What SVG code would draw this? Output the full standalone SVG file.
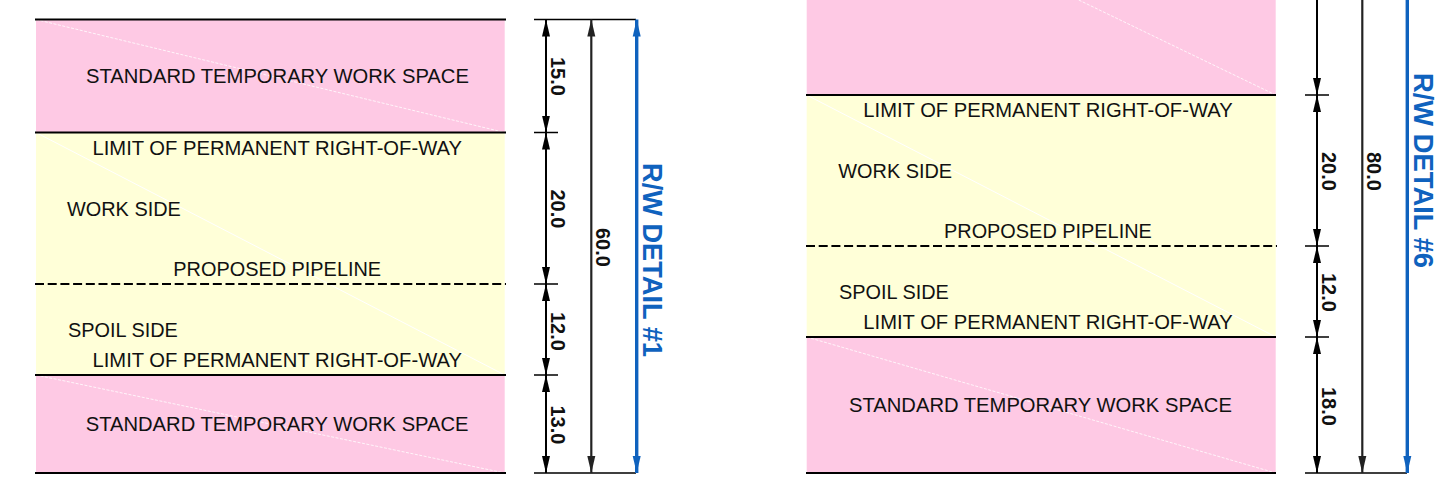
<svg xmlns="http://www.w3.org/2000/svg" width="1438" height="487" viewBox="0 0 1438 487">
<style>
text{font-family:"Liberation Sans",Arial,sans-serif}
.l{font-size:20.2px;fill:#111}
.s{font-size:19.9px;fill:#111}
.d{font-size:20px;font-weight:700;fill:#111}
.t{font-size:28.5px;font-weight:700;fill:#0f62be}
.p{fill:#fec9e4}
.y{fill:#ffffd8}
.dp{stroke:#fff;stroke-width:.8;stroke-dasharray:3 1.5;fill:none}
.dy{stroke:#fff;stroke-width:1;fill:none}
.b{stroke:#000;stroke-width:2;fill:none}
.k{stroke:#000;stroke-width:1.6;fill:none}
.h{stroke:#000;stroke-width:1.8;stroke-dasharray:9 3.7;fill:none}
.a{stroke:#000;stroke-width:2;fill:none;marker-start:url(#ak);marker-end:url(#ak)}
.m{stroke:#222;stroke-width:2.2;fill:none}
.u{stroke:#0f62be;stroke-width:3.4;fill:none}
</style>
<defs>
<marker id="ak" markerUnits="userSpaceOnUse" markerWidth="18" markerHeight="10" refX="17" refY="5" orient="auto-start-reverse"><path d="M0,1 L17,5 L0,9 Z" fill="#000"/></marker>
<marker id="am" markerUnits="userSpaceOnUse" markerWidth="18" markerHeight="10" refX="17" refY="5" orient="auto-start-reverse"><path d="M0,1 L17,5 L0,9 Z" fill="#222"/></marker>
<marker id="au" markerUnits="userSpaceOnUse" markerWidth="18" markerHeight="10" refX="17" refY="5" orient="auto-start-reverse"><path d="M0,1 L17,5 L0,9 Z" fill="#0f62be"/></marker>
</defs>

<g id="detail-1-bands">
<rect class="p" x="36" y="19.5" width="468.7" height="113"/>
<rect class="y" x="36" y="132.5" width="468.7" height="242.5"/>
<rect class="p" x="36" y="375" width="468.7" height="98"/>
<path class="dp" d="M36,19.5 L504.7,132.5"/>
<path class="dy" d="M36,132.5 L504.7,375"/>
<path class="dp" d="M36,375 L504.7,473"/>
</g>
<g id="detail-6-bands">
<rect class="p" x="806.7" y="0" width="469" height="95"/>
<rect class="y" x="806.7" y="95" width="469" height="242"/>
<rect class="p" x="806.7" y="337" width="469" height="136"/>
<path class="dp" d="M1078.7,0 L1275.7,95"/>
<path class="dy" d="M806.7,95 L1275.7,337"/>
<path class="dp" d="M806.7,337 L1275.7,473"/>
</g>

<g id="connectors">
<path class="b" d="M35,19.5H506M35,132.5H506M35,375H506M35,473H506"/>
<path class="h" d="M35,284H506"/>
<path class="b" d="M806,95H1276M806,337H1276M806,473H1276"/>
<path class="h" d="M806,246H1277"/>
<path class="k" d="M534,19.5H636M534,132.5H558M534,284H558M534,375H558M534,473H636"/>
<path class="k" d="M1305,95H1329M1305,246H1329M1305,337H1329M1305,473H1407"/>
<path class="a" d="M546,19.5V132.5"/>
<path class="a" d="M546,132.5V284"/>
<path class="a" d="M546,284V375"/>
<path class="a" d="M546,375V473"/>
<path class="m" d="M591.3,19.5V473" marker-start="url(#am)" marker-end="url(#am)"/>
<path class="u" d="M636.7,19.5V473" marker-start="url(#au)" marker-end="url(#au)"/>
<path class="a" style="marker-start:none" d="M1317,0V95"/>
<path class="a" d="M1317,95V246"/>
<path class="a" d="M1317,246V337"/>
<path class="a" d="M1317,337V473"/>
<path class="m" d="M1362.3,0V473" marker-end="url(#am)"/>
<path class="u" d="M1407.3,0V473" marker-end="url(#au)"/>
</g>

<g id="detail-1-labels">
<text class="l" x="86" y="83">STANDARD TEMPORARY WORK SPACE</text>
<text class="l" x="92.5" y="155">LIMIT OF PERMANENT RIGHT-OF-WAY</text>
<text class="s" x="67" y="216">WORK SIDE</text>
<text class="s" x="173.3" y="276">PROPOSED PIPELINE</text>
<text class="s" x="68" y="337">SPOIL SIDE</text>
<text class="l" x="92.5" y="366.5">LIMIT OF PERMANENT RIGHT-OF-WAY</text>
<text class="l" x="85.7" y="431">STANDARD TEMPORARY WORK SPACE</text>
</g>
<g id="detail-6-labels">
<text class="l" x="863.3" y="116.5">LIMIT OF PERMANENT RIGHT-OF-WAY</text>
<text class="s" x="838.3" y="178">WORK SIDE</text>
<text class="s" x="944" y="238">PROPOSED PIPELINE</text>
<text class="s" x="839" y="299">SPOIL SIDE</text>
<text class="l" x="863.3" y="328.5">LIMIT OF PERMANENT RIGHT-OF-WAY</text>
<text class="l" x="849" y="412">STANDARD TEMPORARY WORK SPACE</text>
</g>
<g id="detail-1-dimensions">
<text class="d" transform="translate(550.5,57) rotate(90)">15.0</text>
<text class="d" transform="translate(550.5,189.5) rotate(90)">20.0</text>
<text class="d" transform="translate(595.5,228) rotate(90)">60.0</text>
<text class="d" transform="translate(550.5,312) rotate(90)">12.0</text>
<text class="d" transform="translate(550.5,405.5) rotate(90)">13.0</text>
<text class="t" transform="translate(643,163) rotate(90)" textLength="194" lengthAdjust="spacingAndGlyphs">R/W DETAIL #1</text>
</g>
<g id="detail-6-dimensions">
<text class="d" transform="translate(1321.5,152) rotate(90)">20.0</text>
<text class="d" transform="translate(1366.5,152) rotate(90)">80.0</text>
<text class="d" transform="translate(1321.5,273) rotate(90)">12.0</text>
<text class="d" transform="translate(1321.5,387) rotate(90)">18.0</text>
<text class="t" transform="translate(1413.5,73) rotate(90)" textLength="195" lengthAdjust="spacingAndGlyphs">R/W DETAIL #6</text>
</g>
</svg>
